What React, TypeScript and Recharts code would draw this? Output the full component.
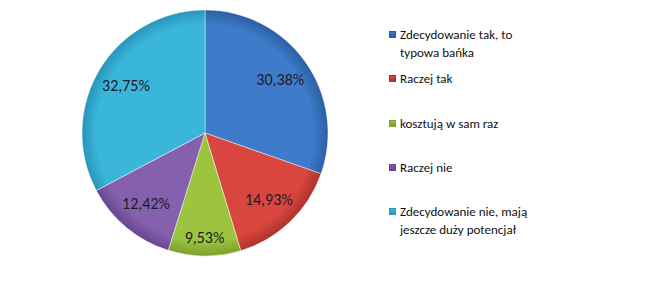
import { Cell, Legend, Pie, PieChart } from "recharts";

const categories = [
  "Zdecydowanie tak, to typowa bańka",
  "Raczej tak",
  "kosztują w sam raz",
  "Raczej nie",
  "Zdecydowanie nie, mają jeszcze duży potencjał",
];
const legendLines = [
  ["Zdecydowanie tak, to", "typowa bańka"],
  ["Raczej tak"],
  ["kosztują w sam raz"],
  ["Raczej nie"],
  ["Zdecydowanie nie, mają", "jeszcze duży potencjał"],
];
const shares = [30.38, 14.93, 9.53, 12.42, 32.75];
const light = ["#3e7bca", "#d9463f", "#9cc43f", "#8561ad", "#3bb6db"];
const dark = ["#2b5fa3", "#ad332d", "#7d9f2f", "#674590", "#2895ba"];

const data = categories.map((name, i) => ({ name, value: shares[i] }));
const FONT = "Carlito, Calibri, 'Open Sans', sans-serif";
const CX = 205;
const CY = 133;
const R = 123;

const RAD = Math.PI / 180;

function renderLabel(props: any) {
  const { cx, cy, midAngle, outerRadius, value } = props;
  const k = value < 11 ? 0.85 : 0.75;
  const r = outerRadius * k;
  const x = cx + r * Math.cos(-midAngle * RAD);
  const y = cy + r * Math.sin(-midAngle * RAD);
  return (
    <text
      x={x}
      y={y}
      textAnchor="middle"
      dominantBaseline="central"
      fill="#1c1c28"
      fontSize={16}
      fontFamily={FONT}
    >
      {value.toFixed(2).replace(".", ",")}%
    </text>
  );
}

function LegendBox() {
  return (
    <div style={{ position: "relative", width: 240, height: 240, fontFamily: FONT, fontSize: 13, color: "#111" }}>
      {legendLines.map((lines, i) => (
        <div key={i} style={{ position: "absolute", left: 0, top: i * 44.3, lineHeight: "18px" }}>
          <span
            style={{
              position: "absolute",
              left: 0,
              top: 5,
              width: 7,
              height: 7,
              background: `linear-gradient(${light[i]}, ${dark[i]})`,
              border: `1px solid ${dark[i]}`,
              boxSizing: "border-box",
            }}
          />
          <div style={{ marginLeft: 11, whiteSpace: "nowrap" }}>
            {lines.map((l) => (
              <div key={l}>{l}</div>
            ))}
          </div>
        </div>
      ))}
    </div>
  );
}

export default function App() {
  return (
    <div style={{ position: "absolute", left: 0, top: 0, width: 645, height: 286, background: "#fff" }}>
      <PieChart width={645} height={286} margin={{ top: 0, right: 0, bottom: 0, left: 0 }}>
        <defs>
          {light.map((c, i) => (
            <radialGradient
              key={i}
              id={`g${i}`}
              gradientUnits="userSpaceOnUse"
              cx={CX}
              cy={CY}
              r={R}
            >
              <stop offset="0%" stopColor={c} />
              <stop offset="88%" stopColor={c} />
              <stop offset="100%" stopColor={dark[i]} />
            </radialGradient>
          ))}
        </defs>
        <Pie
          data={data}
          dataKey="value"
          cx={CX}
          cy={CY}
          outerRadius={R}
          startAngle={90}
          endAngle={-270}
          stroke="rgba(255,255,255,0.45)"
          strokeWidth={1}
          label={renderLabel}
          labelLine={false}
          isAnimationActive={false}
        >
          {data.map((d, i) => (
            <Cell key={d.name} fill={`url(#g${i})`} />
          ))}
        </Pie>
        <Legend
          content={() => <LegendBox />}
          wrapperStyle={{ position: "absolute", left: 389, top: 26, width: 240 }}
        />
      </PieChart>
    </div>
  );
}
